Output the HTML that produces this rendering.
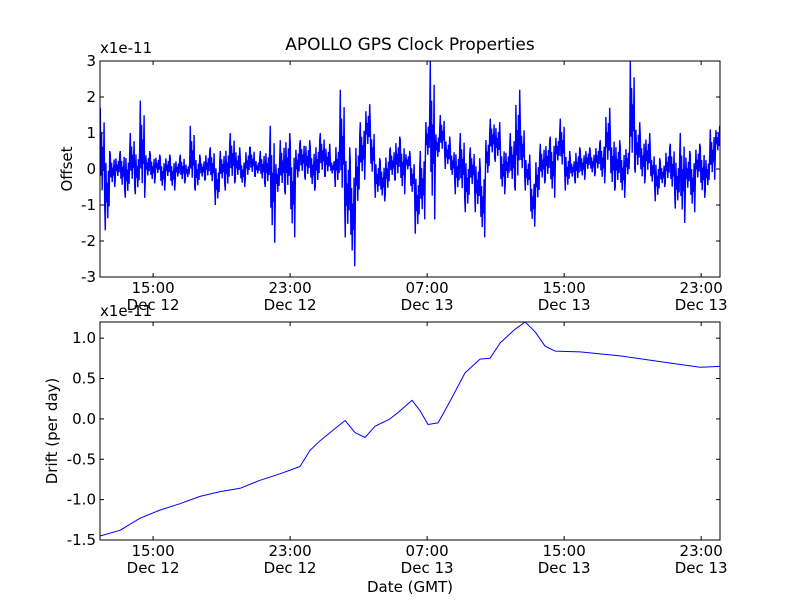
<!DOCTYPE html>
<html><head><meta charset="utf-8"><style>
body{margin:0;background:#fff;}
svg text{font-family:"DejaVu Sans","Liberation Sans",sans-serif;font-size:15px;fill:#000;}
</style></head><body>
<svg id="c" width="800" height="600" xmlns="http://www.w3.org/2000/svg">
<rect width="800" height="600" fill="#fff"/>
<text x="410" y="50" text-anchor="middle" style="font-size:17px">APOLLO GPS Clock Properties</text>
</svg>
<script>
// hours since Dec 12 00:00
const xTickHours=[15,23,31,39,47];
const xTickLine1=["15:00","23:00","07:00","15:00","23:00"];
const xTickLine2=["Dec 12","Dec 12","Dec 13","Dec 13","Dec 13"];
const offsetTicks=[-3,-2,-1,0,1,2,3];
const driftTicks=[-1.5,-1.0,-0.5,0.0,0.5,1.0];
const driftTickLabels=["-1.5","-1.0","-0.5","0.0","0.5","1.0"];
// offset (1e-11), per bin high / low values across the time range
const offsetHi=[1.7,0.5,0.4,0.4,0.5,0.5,1.0,0.6,1.9,0.5,0.4,0.4,0.3,0.4,0.3,0.3,0.4,0.2,1.2,0.4,0.3,0.5,0.6,0.2,0.5,0.7,1.0,0.6,0.3,0.6,0.6,0.3,0.5,0.6,1.2,0.3,0.8,1.0,0.7,0.7,0.8,0.8,0.6,0.8,1.0,0.7,0.3,0.8,2.2,0.6,0.2,0.9,1.3,1.8,1.2,0.3,0.2,0.5,0.6,0.9,0.8,0.5,0.3,0.0,0.5,1.5,3.0,1.1,1.5,0.9,0.6,0.6,1.0,0.4,0.6,0.3,0.0,1.0,1.4,1.3,0.7,0.6,1.0,2.2,1.3,0.4,-0.2,0.4,0.7,0.8,0.9,1.0,1.4,0.5,0.3,0.6,0.5,0.6,0.5,0.7,0.8,1.7,1.0,0.8,0.6,0.7,3.0,1.3,0.9,1.0,0.5,0.3,0.2,0.6,0.7,0.4,1.0,0.5,0.4,0.7,0.6,0.4,1.1,1.2];
const offsetLo=[-1.0,-1.7,-0.5,-0.3,-0.6,-0.8,-0.5,-0.7,-0.8,-0.3,-0.4,-0.2,-0.6,-0.3,-0.6,-0.3,-0.4,-0.3,-0.5,-0.6,-0.3,-0.3,-0.5,-1.0,-0.4,-0.6,-0.4,-0.3,-0.5,-0.3,-0.2,-0.2,-0.4,-0.5,-2.05,-0.8,-0.6,-0.7,-1.9,-0.4,-0.2,-0.3,-0.6,-0.5,-0.2,-0.2,-0.2,-0.5,-1.0,-1.9,-2.7,-1.2,-0.3,0.5,-0.3,-0.8,-0.9,-0.7,-0.3,-0.3,-0.7,-0.1,-0.8,-1.8,-1.4,0.2,-1.4,0.2,0.4,0.0,-0.3,-0.7,-0.8,-1.2,-0.6,-1.2,-1.9,-0.3,0.3,0.2,-0.7,-0.4,-0.5,-0.6,-0.2,-0.6,-1.6,-1.0,-0.4,-0.3,-0.8,0.1,-0.1,-0.6,-0.3,-0.4,-0.3,-0.1,-0.2,-0.1,-0.4,0.0,-0.6,-0.5,-0.8,-0.3,0.0,-0.1,-0.4,-0.2,-0.5,-0.9,-0.5,-0.4,-0.7,-1.1,-1.5,-0.7,-1.2,-0.4,-0.8,-0.6,-0.3,0.4];
// drift (1e-11 per day)
const driftHours=[11.90,13.07,14.24,15.40,16.57,17.74,18.91,20.08,21.24,22.41,23.58,24.16,24.75,25.33,26.21,26.79,27.37,27.96,28.83,29.42,30.12,30.59,31.05,31.64,32.34,33.21,34.09,34.67,35.26,36.13,36.72,37.30,37.89,38.47,39.93,42.27,44.60,46.94,48.10];
const driftVals=[-1.45,-1.38,-1.23,-1.13,-1.05,-0.96,-0.90,-0.86,-0.76,-0.68,-0.59,-0.39,-0.27,-0.17,-0.02,-0.17,-0.23,-0.09,0.0,0.10,0.23,0.10,-0.07,-0.05,0.22,0.57,0.74,0.75,0.94,1.11,1.20,1.08,0.90,0.84,0.83,0.78,0.71,0.64,0.65];

const svg=document.getElementById('c');
const NS='http://www.w3.org/2000/svg';
const H0=11.9,H1=48.1,L=100,R=720;
function xs(h){return L+(h-H0)/(H1-H0)*(R-L);}
function mk(t,a,p){const e=document.createElementNS(NS,t);for(const k in a)e.setAttribute(k,a[k]);(p||svg).appendChild(e);return e;}
function axes(top,bot,ymin,ymax,ticks,labels,name){
  const ys=v=>bot-(v-ymin)/(ymax-ymin)*(bot-top);
  const g=mk('g',{});
  
  
  xTickHours.forEach((h,i)=>{const x=xs(h);
    mk('line',{x1:x,x2:x,y1:bot,y2:bot-4,stroke:'#000'},g);
    mk('line',{x1:x,x2:x,y1:top,y2:top+4,stroke:'#000'},g);
    const t1=mk('text',{x:x,y:bot+16,'text-anchor':'middle'},g);t1.textContent=xTickLine1[i];
    
    
    const t2=mk('text',{x:x,y:bot+33,'text-anchor':'middle'},g);t2.textContent=xTickLine2[i];
    
    
  });
  ticks.forEach((v,i)=>{const y=ys(v);
    mk('line',{x1:L,x2:L+4,y1:y,y2:y,stroke:'#000'},g);
    mk('line',{x1:R,x2:R-4,y1:y,y2:y,stroke:'#000'},g);
    const t=mk('text',{x:L-4,y:y+5,'text-anchor':'end'},g);t.textContent=labels[i];
    
    
  });
  return ys;
}
// top
const ys1=axes(61,277,-3,3,offsetTicks,offsetTicks.map(String),'offset-axes');
const frac=[1,0.3,0.75,0.15,0.6,0.35,0.85,0];
let pts=[];const n=offsetHi.length;
for(let i=0;i<n;i++){
  for(let k=0;k<frac.length;k++){
    const f=(i%2)?frac[frac.length-1-k]:frac[k];
    const h=H0+(i+(k+0.5)/frac.length)/n*(H1-H0);
    const v=offsetLo[i]+f*(offsetHi[i]-offsetLo[i]);
    pts.push(xs(h).toFixed(1)+','+ys1(v).toFixed(1));
  }}
const l1=mk('polyline',{points:pts.join(' '),fill:'none',stroke:'#0000ff','stroke-width':1.4});


mk('rect',{x:L,y:61,width:R-L,height:216,fill:'none',stroke:'#000'});
// bottom
const ys2=axes(322,540,-1.5,1.2,driftTicks,driftTickLabels,'drift-axes');
const p2=driftHours.map((h,i)=>xs(h).toFixed(1)+','+ys2(driftVals[i]).toFixed(1)).join(' ');
const l2=mk('polyline',{points:p2,fill:'none',stroke:'#0000ff','stroke-width':1,'stroke-linejoin':'round'});


mk('rect',{x:L,y:322,width:R-L,height:218,fill:'none',stroke:'#000'});
function txt(x,y,s,name,extra){const t=mk('text',Object.assign({x:x,y:y},extra||{}));t.textContent=s;
  
  }
txt(100,53,'x1e-11','offset-scale-label');
txt(100,316,'x1e-11','drift-scale-label');
txt(72,169,'Offset','y-axis-title-offset',{'text-anchor':'middle',transform:'rotate(-90 72 169)'});
txt(57,431,'Drift (per day)','y-axis-title-drift',{'text-anchor':'middle',transform:'rotate(-90 57 431)'});
txt(410,592,'Date (GMT)','x-axis-title',{'text-anchor':'middle'});
</script>
</body></html>
